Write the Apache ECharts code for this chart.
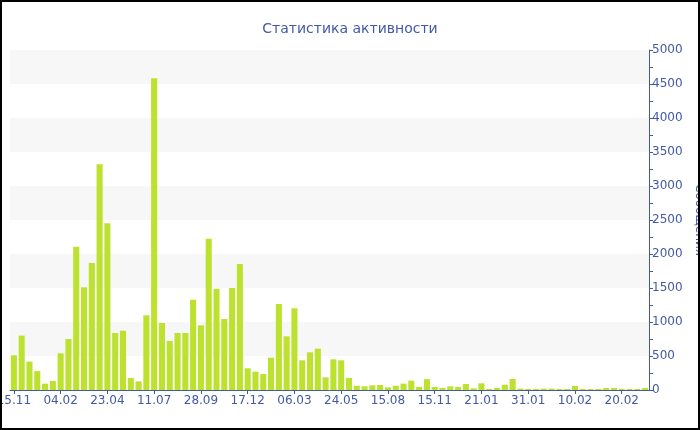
<!DOCTYPE html>
<html>
<head>
<meta charset="utf-8">
<script src="https://cdn.jsdelivr.net/npm/echarts@6/dist/echarts.min.js"></script>
<style>
html,body{margin:0;padding:0;background:#fff;}
#chart{width:700px;height:430px;}
</style>
</head>
<body>
<div id="chart"></div>
<script>
const titleText = 'Статистика активности';
const yAxisName = 'Сообщения';
const categories = [
  '15.11','29.11','13.12','27.12','10.01','23.01','04.02',
  '17.02','02.03','15.03','28.03','10.04','23.04',
  '06.05','19.05','01.06','14.06','27.06','11.07',
  '24.07','06.08','19.08','01.09','14.09','28.09',
  '11.10','24.10','06.11','19.11','03.12','17.12',
  '30.12','12.01','25.01','07.02','20.02','06.03',
  '19.03','01.04','14.04','27.04','10.05','24.05',
  '07.06','21.06','05.07','19.07','02.08','15.08',
  '30.08','15.09','30.09','15.10','31.10','15.11',
  '26.11','07.12','18.12','29.12','10.01','21.01',
  '22.01','24.01','26.01','27.01','29.01','31.01',
  '02.02','04.02','05.02','07.02','09.02','10.02',
  '12.02','14.02','15.02','17.02','19.02','20.02',
  '22.02','24.02','25.02'
];
const messages = [
  510, 800, 417, 279, 93, 132, 539,
  750, 2108, 1510, 1868, 3319, 2451,
  838, 872, 176, 127, 1098, 4583,
  985, 721, 838, 838, 1328, 951,
  2225, 1488, 1044, 1500, 1853, 319,
  270, 235, 475, 1265, 789, 1201,
  436, 554, 608, 186, 451, 436,
  176, 63, 54, 69, 74, 39,
  63, 93, 137, 44, 160, 44,
  29, 54, 44, 88, 25, 98,
  15, 29, 78, 162, 20, 15,
  15, 20, 20, 15, 15, 59,
  15, 15, 15, 29, 29, 15,
  15, 15, 29
];

const blue = '#4259a5';
const font = 'DejaVu Sans';
const chart = echarts.init(document.getElementById('chart'), null, {renderer:'canvas'});
chart.setOption({
  animation: false,
  backgroundColor: '#ffffff',
  title: {
    text: titleText, left: 'center', top: 17,
    textStyle: {color: blue, fontFamily: font, fontSize: 14, fontWeight: 'normal'}
  },
  grid: {left: 10, right: 51, top: 50, bottom: 40, containLabel: false, outerBoundsMode: 'none'},
  xAxis: {
    type: 'category',
    data: categories,
    boundaryGap: true,
    axisLine: {lineStyle: {color: blue, width: 1}},
    axisTick: {show: true, alignWithLabel: true, interval: 5, length: 4, lineStyle: {color: blue}},
    axisLabel: {interval: 5, color: blue, fontFamily: font, fontSize: 12, margin: 5},
    splitLine: {show: false}
  },
  yAxis: {
    type: 'value',
    position: 'right',
    min: 0, max: 5000, interval: 500,
    name: yAxisName,
    nameLocation: 'middle',
    nameRotate: -90,
    nameGap: 35,
    nameTextStyle: {color: blue, fontFamily: font, fontSize: 12},
    axisLine: {show: true, lineStyle: {color: blue, width: 1}},
    axisTick: {show: true, length: 4, lineStyle: {color: blue}},
    minorTick: {show: true, splitNumber: 2, length: 4, lineStyle: {color: blue}},
    axisLabel: {color: blue, fontFamily: font, fontSize: 12, margin: 3, formatter: function (v) { return String(v); }},
    splitLine: {show: false},
    splitArea: {show: true, areaStyle: {color: ['rgba(255,255,255,0)', '#f7f7f7']}}
  },
  series: [{
    type: 'bar',
    data: messages,
    barCategoryGap: '22%',
    itemStyle: {color: '#bde12f'}
  }],
  graphic: [{
    type: 'rect', z: 100, silent: true,
    shape: {x: 1, y: 1, width: 698, height: 428},
    style: {fill: 'none', stroke: '#000', lineWidth: 2}
  }]
});
</script>
</body>
</html>
